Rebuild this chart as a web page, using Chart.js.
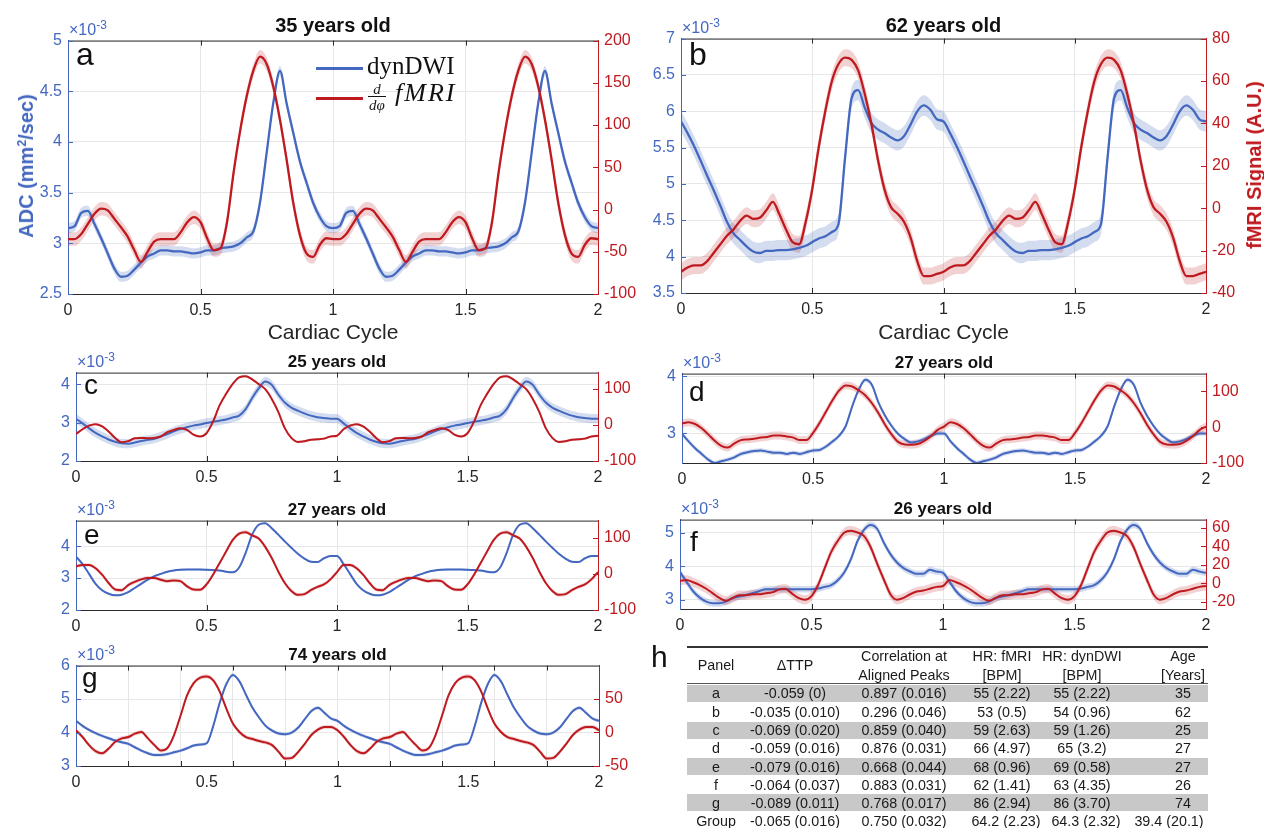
<!DOCTYPE html>
<html>
<head>
<meta charset="utf-8">
<title>dynDWI vs fMRI</title>
<script src="https://cdn.jsdelivr.net/npm/chart.js@4.4.1/dist/chart.umd.min.js"></script>
<style>
  html, body { margin: 0; padding: 0; background: #fff; }
  body { position: relative; width: 1264px; height: 828px; overflow: hidden;
         font-family: "Liberation Sans", Arial, Helvetica, sans-serif; color: #1a1a1a; }
  canvas { position: absolute; }
  .t { position: absolute; white-space: nowrap; line-height: 1; }
  sup { font-size: 0.62em; vertical-align: 0.55em; line-height: 0; }
  .exp sup { font-size: 0.75em; vertical-align: 0.5em; }
  .legline { position: absolute; height: 3px; }
  .frac { position: absolute; display: flex; flex-direction: column; align-items: center;
          font-family: "Liberation Serif", "DejaVu Serif", serif; font-style: italic; font-size: 15px; line-height: 14px; }
  .frac span + span { border-top: 1px solid #111; padding: 1px 1px 0; }
  .band { position: absolute; background: #c8c8c8; }
  .rule { position: absolute; background: #333; }
</style>
</head>
<body>
<script>
// phase samples of one cardiac cycle (the figure shows the cycle twice)
const phase = [0, 0.025, 0.05, 0.075, 0.1, 0.125, 0.15, 0.175, 0.2, 0.225, 0.25, 0.275, 0.3, 0.325,
  0.35, 0.375, 0.4, 0.425, 0.45, 0.475, 0.5, 0.525, 0.55, 0.575, 0.6, 0.625, 0.65, 0.675, 0.7,
  0.725, 0.75, 0.775, 0.8, 0.825, 0.85, 0.875, 0.9, 0.925, 0.95, 0.975, 1];

// ADC (x1e-3 mm^2/sec) and d/dphi fMRI for each panel
const aBlue = [3.15, 3.17, 3.30, 3.32, 3.19, 3.05, 2.90, 2.75, 2.67, 2.68, 2.74, 2.81, 2.87, 2.90, 2.93, 2.93, 2.92, 2.92, 2.91, 2.90, 2.91, 2.93, 2.93, 2.95, 2.96, 2.97, 3.00, 3.06, 3.12, 3.41, 3.90, 4.39, 4.70, 4.38, 4.09, 3.81, 3.60, 3.40, 3.26, 3.17, 3.15];
const aRed = [-35, -35, -29, -17, -5, 1, -1, -11, -21, -32, -48, -62, -50, -38, -35, -35, -35, -27, -15, -9, -15, -34, -48, -46, -15, 44, 94, 135, 165, 181, 172, 145, 106, 59, 8, -30, -52, -56, -42, -34, -35];

const bBlue = [5.86, 5.70, 5.52, 5.32, 5.11, 4.91, 4.70, 4.48, 4.32, 4.23, 4.14, 4.07, 4.05, 4.08, 4.08, 4.09, 4.09, 4.10, 4.12, 4.15, 4.20, 4.25, 4.28, 4.34, 4.45, 5.36, 6.18, 6.29, 6.05, 5.84, 5.75, 5.70, 5.64, 5.60, 5.66, 5.82, 6.00, 6.08, 6.02, 5.89, 5.86];
const bRed = [-30, -28, -27, -27, -25, -21, -17, -13, -10, -6, -3.5, -5, -4.5, -1, 3, -3, -10, -16, -17, -6.5, 9, 29, 46, 60, 68, 71, 70, 65, 54, 40, 23, 9, 0.5, -2.6, -6.5, -14, -25, -32, -32, -31, -30];

const cBlue = [3.10, 2.98, 2.85, 2.73, 2.64, 2.56, 2.50, 2.46, 2.45, 2.48, 2.52, 2.55, 2.58, 2.64, 2.70, 2.77, 2.83, 2.88, 2.92, 2.95, 2.99, 3.02, 3.05, 3.08, 3.13, 3.18, 3.35, 3.64, 3.89, 4.07, 3.98, 3.73, 3.52, 3.39, 3.31, 3.24, 3.18, 3.14, 3.12, 3.10, 3.10];
const cRed = [-25, -12, -2, 2, -4, -18, -36, -48, -45, -37, -36, -37, -36, -32, -20, -14, -9, -14, -27, -32, -23, 9, 54, 86, 113, 132, 135, 126, 113, 99, 72, 36, -9, -36, -47, -45, -41, -40, -38, -32, -30];

const dBlue = [2.99, 2.86, 2.74, 2.64, 2.54, 2.48, 2.51, 2.54, 2.58, 2.64, 2.67, 2.69, 2.70, 2.68, 2.66, 2.66, 2.64, 2.66, 2.64, 2.67, 2.70, 2.71, 2.77, 2.86, 2.96, 3.13, 3.48, 3.77, 3.94, 3.85, 3.54, 3.31, 3.13, 2.99, 2.90, 2.84, 2.86, 2.90, 2.96, 3.00, 3.00];
const dRed = [10, 14, 9, -3, -20, -38, -52, -57, -45, -36, -34, -32, -29, -27, -23, -23, -26, -29, -36, -36, -16, 12, 44, 76, 103, 117, 114, 103, 89, 67, 39, 7, -20, -41, -48, -49, -47, -38, -25, -8, 2];

const eBlue = [3.67, 3.44, 3.13, 2.82, 2.62, 2.51, 2.46, 2.48, 2.56, 2.69, 2.82, 2.95, 3.06, 3.13, 3.20, 3.24, 3.26, 3.27, 3.27, 3.27, 3.26, 3.25, 3.24, 3.20, 3.18, 3.33, 3.79, 4.36, 4.67, 4.72, 4.56, 4.36, 4.15, 3.95, 3.76, 3.61, 3.51, 3.50, 3.62, 3.69, 3.69];
const eRed = [21, 25, 25, 16, -2, -25, -43, -45, -31, -22, -15, -11, -11, -16, -20, -18, -20, -34, -43, -44, -29, -2, 30, 62, 94, 112, 116, 107, 98, 75, 44, 7, -25, -47, -58, -56, -45, -36, -29, -15, 5];

const fBlue = [3.83, 3.54, 3.26, 3.07, 2.95, 2.90, 2.90, 2.95, 3.05, 3.10, 3.15, 3.20, 3.26, 3.32, 3.32, 3.32, 3.32, 3.32, 3.32, 3.32, 3.32, 3.34, 3.39, 3.44, 3.59, 3.83, 4.22, 4.76, 5.10, 5.24, 5.12, 4.71, 4.37, 4.12, 3.95, 3.85, 3.78, 3.78, 3.90, 3.85, 3.81];
const fRed = [2.5, 3.5, 1, -2, -6, -11, -16, -19, -16, -13, -13, -12, -12, -11, -10, -7, -6, -11, -16, -18, -14, -2, 16, 34, 46, 55, 57, 55, 51, 39, 21, 4, -12, -18, -16, -12, -9, -8, -6, -4, -3];

const gBlue = [4.35, 4.20, 4.08, 3.98, 3.90, 3.83, 3.76, 3.71, 3.66, 3.56, 3.46, 3.38, 3.33, 3.33, 3.36, 3.41, 3.46, 3.53, 3.61, 3.64, 3.68, 4.20, 4.90, 5.45, 5.72, 5.53, 5.13, 4.74, 4.45, 4.20, 4.06, 3.97, 3.95, 4.00, 4.15, 4.40, 4.64, 4.74, 4.59, 4.42, 4.35];
const gRed = [3, -7, -19, -28, -31, -24, -14, -9, -7, -2, 0.5, -9, -19, -27, -23, -4, 25, 55, 73, 81, 83, 77, 60, 35, 13, 0.5, -7, -10, -13, -15, -19, -29, -39, -38, -29, -17, -4, 4, 8, 8, 3];

// half width of the shaded spread: [ADC, fMRI]
const aSpread = [0.05, 8];
const bSpread = [0.14, 4];
const cSpread = [0.12, 3];
const dSpread = [0.04, 11];
const eSpread = [0.03, 5];
const fSpread = [0.1, 5];
const gSpread = [0.05, 3];

// axis ranges and ticks
const aLeftRange = [2.5, 5], aRightRange = [-100, 200];
const bLeftRange = [3.5, 7], bRightRange = [-40, 80];
const cLeftRange = [2, 4.3], cRightRange = [-100, 145];
const dLeftRange = [2.48, 4.05], dRightRange = [-100, 150];
const eLeftRange = [2, 4.8], eRightRange = [-100, 148];
const fLeftRange = [2.73, 5.4], fRightRange = [-28, 69];
const gLeftRange = [3, 6], gRightRange = [-50, 99];

const aLeftTicks = [2.5, 3, 3.5, 4, 4.5, 5], aRightTicks = [-100, -50, 0, 50, 100, 150, 200];
const bLeftTicks = [3.5, 4, 4.5, 5, 5.5, 6, 6.5, 7], bRightTicks = [-40, -20, 0, 20, 40, 60, 80];
const cLeftTicks = [2, 3, 4], cRightTicks = [-100, 0, 100];
const dLeftTicks = [3, 4], dRightTicks = [-100, 0, 100];
const eLeftTicks = [2, 3, 4], eRightTicks = [-100, 0, 100];
const fLeftTicks = [3, 4, 5], fRightTicks = [-20, 0, 20, 40, 60];
const gLeftTicks = [3, 4, 5, 6], gRightTicks = [-50, 0, 50];

const xTicks = [0, 0.5, 1, 1.5, 2];
const gXTicks = [0, 0.2, 0.4, 0.5, 0.6, 0.8, 1, 1.2, 1.4, 1.5, 1.6, 1.8, 2];
const gMarks = [0.2, 0.4, 0.6, 0.8, 1, 1.2, 1.4, 1.6, 1.8];

// table h
const tblPanel = ['a', 'b', 'c', 'd', 'e', 'f', 'g', 'Group'];
const tblDTTP = ['-0.059 (0)', '-0.035 (0.010)', '-0.069 (0.020)', '-0.059 (0.016)', '-0.079 (0.016)', '-0.064 (0.037)', '-0.089 (0.011)', '-0.065 (0.016)'];
const tblCorr = ['0.897 (0.016)', '0.296 (0.046)', '0.859 (0.040)', '0.876 (0.031)', '0.668 (0.044)', '0.883 (0.031)', '0.768 (0.017)', '0.750 (0.032)'];
const tblHRfMRI = ['55 (2.22)', '53 (0.5)', '59 (2.63)', '66 (4.97)', '68 (0.96)', '62 (1.41)', '86 (2.94)', '64.2 (2.23)'];
const tblHRdyn = ['55 (2.22)', '54 (0.96)', '59 (1.26)', '65 (3.2)', '69 (0.58)', '63 (4.35)', '86 (3.70)', '64.3 (2.32)'];
const tblAge = ['35', '62', '25', '27', '27', '26', '74', '39.4 (20.1)'];

const BLUE = '#4468c0';
const RED = '#bf1a1f';
const BLUE_BAND = 'rgba(68, 104, 192, 0.23)';
const RED_BAND = 'rgba(191, 26, 31, 0.2)';
const FONT = '"Liberation Sans", Arial, Helvetica, sans-serif';
const SERIF = '"Liberation Serif", "DejaVu Serif", serif';

const panels = [
  { title: '35 years old', rect: [68, 39, 598, 294], big: true, letter: 'a', letterAt: [76, 38],
    blue: aBlue, red: aRed, spread: aSpread, lr: aLeftRange, rr: aRightRange, lt: aLeftTicks, rt: aRightTicks },
  { title: '62 years old', rect: [681, 37, 1206, 293], big: true, letter: 'b', letterAt: [689, 38],
    blue: bBlue, red: bRed, spread: bSpread, lr: bLeftRange, rr: bRightRange, lt: bLeftTicks, rt: bRightTicks },
  { title: '25 years old', rect: [76, 371, 598, 461], letter: 'c', letterAt: [84, 371],
    blue: cBlue, red: cRed, spread: cSpread, lr: cLeftRange, rr: cRightRange, lt: cLeftTicks, rt: cRightTicks },
  { title: '27 years old', rect: [682, 372, 1206, 463], letter: 'd', letterAt: [689, 378],
    blue: dBlue, red: dRed, spread: dSpread, lr: dLeftRange, rr: dRightRange, lt: dLeftTicks, rt: dRightTicks },
  { title: '27 years old', rect: [76, 519, 598, 610], letter: 'e', letterAt: [84, 521],
    blue: eBlue, red: eRed, spread: eSpread, lr: eLeftRange, rr: eRightRange, lt: eLeftTicks, rt: eRightTicks },
  { title: '26 years old', rect: [680, 518, 1206, 609], letter: 'f', letterAt: [690, 528],
    blue: fBlue, red: fRed, spread: fSpread, lr: fLeftRange, rr: fRightRange, lt: fLeftTicks, rt: fRightTicks },
  { title: '74 years old', rect: [76, 664, 599, 766], letter: 'g', letterAt: [82, 664], minor: true,
    blue: gBlue, red: gRed, spread: gSpread, lr: gLeftRange, rr: gRightRange, lt: gLeftTicks, rt: gRightTicks }
];

function addText(html, x, y, style, centered) {
  const d = document.createElement('div');
  d.className = 't';
  d.innerHTML = html;
  Object.assign(d.style, style || {});
  d.style.left = x + 'px';
  d.style.top = y + 'px';
  if (centered) d.style.transform = 'translate(-50%, -50%)';
  document.body.appendChild(d);
  return d;
}

function seriesPoints(vals, offset) {
  const pts = [];
  phase.forEach((p, i) => pts.push({ x: p, y: vals[i] + offset }));
  phase.forEach((p, i) => { if (i > 0) pts.push({ x: p + 1, y: vals[i] + offset }); });
  return pts;
}

function framePlugin(marks) {
  return {
    id: 'frame',
    afterDraw(chart) {
      const { ctx, chartArea: a, scales: s } = chart;
      const seg = (x1, y1, x2, y2) => { ctx.beginPath(); ctx.moveTo(x1, y1); ctx.lineTo(x2, y2); ctx.stroke(); };
      ctx.save();
      ctx.lineWidth = 1;
      ctx.strokeStyle = '#2b2b2b';
      seg(a.left, a.top + 0.5, a.right, a.top + 0.5);
      marks.forEach(v => {
        const x = Math.round(s.x.getPixelForValue(v)) + 0.5;
        seg(x, a.bottom, x, a.bottom - 5);
        seg(x, a.top, x, a.top + 5);
      });
      ctx.strokeStyle = BLUE;
      s.y.ticks.forEach(t => {
        const y = Math.round(s.y.getPixelForValue(t.value)) + 0.5;
        seg(a.left, y, a.left + 5, y);
      });
      ctx.strokeStyle = RED;
      s.y2.ticks.forEach(t => {
        const y = Math.round(s.y2.getPixelForValue(t.value)) + 0.5;
        seg(a.right, y, a.right - 5, y);
      });
      ctx.restore();
    }
  };
}

function makePanel(p) {
  const [L, T, R, B] = p.rect;
  const side = 62, padTop = 14, bottom = 34;
  const cv = document.createElement('canvas');
  cv.width = R - L + 2 * side;
  cv.height = B - T + padTop + bottom;
  cv.style.left = (L - side) + 'px';
  cv.style.top = (T - padTop) + 'px';
  cv.style.width = cv.width + 'px';
  cv.style.height = cv.height + 'px';
  document.body.appendChild(cv);

  const lw = p.big ? 2.3 : 2;
  const tickList = p.minor ? gXTicks : xTicks;
  const gridList = p.minor ? gMarks : xTicks;
  const marks = p.minor ? gMarks : [0.5, 1, 1.5];
  const [bs, rs] = p.spread;
  const common = { pointRadius: 0, cubicInterpolationMode: 'monotone' };
  const edge = { borderWidth: 0, borderColor: 'rgba(0,0,0,0)' };

  new Chart(cv, {
    type: 'line',
    data: {
      datasets: [
        { ...common, ...edge, data: seriesPoints(p.blue, bs), yAxisID: 'y', fill: false, order: 3 },
        { ...common, ...edge, data: seriesPoints(p.blue, -bs), yAxisID: 'y', fill: 0, backgroundColor: BLUE_BAND, order: 3 },
        { ...common, ...edge, data: seriesPoints(p.red, rs), yAxisID: 'y2', fill: false, order: 2 },
        { ...common, ...edge, data: seriesPoints(p.red, -rs), yAxisID: 'y2', fill: 2, backgroundColor: RED_BAND, order: 2 },
        { ...common, data: seriesPoints(p.blue, 0), yAxisID: 'y', borderColor: BLUE, borderWidth: lw, fill: false, order: 1 },
        { ...common, data: seriesPoints(p.red, 0), yAxisID: 'y2', borderColor: RED, borderWidth: lw, fill: false, order: 0 }
      ]
    },
    options: {
      responsive: false,
      maintainAspectRatio: false,
      animation: false,
      events: [],
      layout: { padding: { top: padTop, left: 0, right: 0, bottom: 0 } },
      plugins: { legend: { display: false }, tooltip: { enabled: false } },
      scales: {
        x: {
          type: 'linear',
          min: 0,
          max: 2,
          afterBuildTicks: s => { s.ticks = tickList.map(v => ({ value: v })); },
          afterFit: s => { s.height = bottom; },
          ticks: {
            autoSkip: false,
            maxRotation: 0,
            padding: 7,
            color: '#262626',
            font: { family: FONT, size: 16 },
            callback: v => (xTicks.includes(v) ? String(v) : '')
          },
          grid: {
            drawTicks: false,
            color: ctx => (ctx.tick && gridList.includes(ctx.tick.value) ? '#e7e7e7' : 'rgba(0,0,0,0)')
          },
          border: { color: '#2b2b2b', width: 1 }
        },
        y: {
          position: 'left',
          min: p.lr[0],
          max: p.lr[1],
          afterBuildTicks: s => { s.ticks = p.lt.map(v => ({ value: v })); },
          afterFit: s => { s.width = side; },
          ticks: { color: BLUE, padding: 6, font: { family: FONT, size: 16 }, callback: v => String(v) },
          grid: { drawTicks: false, color: '#e7e7e7' },
          border: { color: BLUE, width: 1 }
        },
        y2: {
          position: 'right',
          min: p.rr[0],
          max: p.rr[1],
          afterBuildTicks: s => { s.ticks = p.rt.map(v => ({ value: v })); },
          afterFit: s => { s.width = side; },
          ticks: { color: RED, padding: 6, font: { family: FONT, size: 16 }, callback: v => String(v) },
          grid: { drawTicks: false, drawOnChartArea: false },
          border: { color: RED, width: 1 }
        }
      }
    },
    plugins: [framePlugin(marks)]
  });

  // texts around the axes
  const cx = (L + R) / 2;
  addText(p.title, cx, p.big ? 25 : T - 10,
    { fontWeight: 'bold', fontSize: (p.big ? 20 : 17) + 'px', color: '#111' }, true);
  addText('×10<sup>-3</sup>', L + 1, T - 17, { color: BLUE, fontSize: '16px' }).classList.add('exp');
  addText(p.letter, p.letterAt[0], p.letterAt[1], { fontSize: (p.big ? 32 : 28) + 'px', color: '#111' });
  if (p.big) addText('Cardiac Cycle', cx, 331, { fontSize: '21px', color: '#262626' }, true);
}

panels.forEach(makePanel);

// y-axis titles of the top row
addText('ADC (mm<sup>2</sup>/sec)', 26, 166,
  { fontWeight: 'bold', fontSize: '20px', color: BLUE, transform: 'translate(-50%, -50%) rotate(-90deg)' });
addText('fMRI Signal (A.U.)', 1254, 165,
  { fontWeight: 'bold', fontSize: '20px', color: RED, transform: 'translate(-50%, -50%) rotate(-90deg)' });

// legend of panel a
function legLine(x, y, w, color) {
  const d = document.createElement('div');
  d.className = 'legline';
  Object.assign(d.style, { left: x + 'px', top: (y - 1.5) + 'px', width: w + 'px', background: color });
  document.body.appendChild(d);
}
legLine(316, 68, 47, BLUE);
legLine(316, 98, 47, RED);
addText('dynDWI', 367, 53, { fontSize: '25px', fontFamily: SERIF, color: '#111' });
const frac = document.createElement('div');
frac.className = 'frac';
frac.innerHTML = '<span>d</span><span>dφ</span>';
Object.assign(frac.style, { left: '368px', top: '82px' });
document.body.appendChild(frac);
addText('fMRI', 395, 80, { fontSize: '26px', fontStyle: 'italic', letterSpacing: '2px', fontFamily: SERIF, color: '#111' });

// table h
const tLeft = 687, tRight = 1208;
const rowY = [693, 711.5, 730, 748, 766.5, 784.5, 802.5, 821];
const colX = [716, 795, 904, 1002, 1082, 1183];
const groupX = [716, 795, 904, 1006, 1086, 1169];
const tStyle = { fontSize: '14.3px', color: '#1a1a1a' };

addText('h', 651, 642, { fontSize: '30px', color: '#111' });
function rule(y, h, color) {
  const d = document.createElement('div');
  d.className = 'rule';
  Object.assign(d.style, { left: tLeft + 'px', top: y + 'px', width: (tRight - tLeft) + 'px', height: h + 'px', background: color });
  document.body.appendChild(d);
}
rule(646, 1.5, '#333');
rule(683, 1, '#555');
rowY.forEach((y, i) => {
  if (i % 2 === 0 && i < 7) {
    const d = document.createElement('div');
    d.className = 'band';
    Object.assign(d.style, { left: tLeft + 'px', top: (y - 8.5) + 'px', width: (tRight - tLeft) + 'px', height: '17px' });
    document.body.appendChild(d);
  }
});
addText('Panel', colX[0], 665, tStyle, true);
addText('ΔTTP', colX[1], 665, tStyle, true);
addText('Correlation at', colX[2], 656, tStyle, true);
addText('Aligned Peaks', colX[2], 675, tStyle, true);
addText('HR: fMRI', colX[3], 656, tStyle, true);
addText('[BPM]', colX[3], 675, tStyle, true);
addText('HR: dynDWI', colX[4], 656, tStyle, true);
addText('[BPM]', colX[4], 675, tStyle, true);
addText('Age', colX[5], 656, tStyle, true);
addText('[Years]', colX[5], 675, tStyle, true);

const tblCols = [tblPanel, tblDTTP, tblCorr, tblHRfMRI, tblHRdyn, tblAge];
rowY.forEach((y, r) => {
  const xs = r === rowY.length - 1 ? groupX : colX;
  tblCols.forEach((col, c) => addText(col[r], xs[c], y, tStyle, true));
});
</script>
</body>
</html>
